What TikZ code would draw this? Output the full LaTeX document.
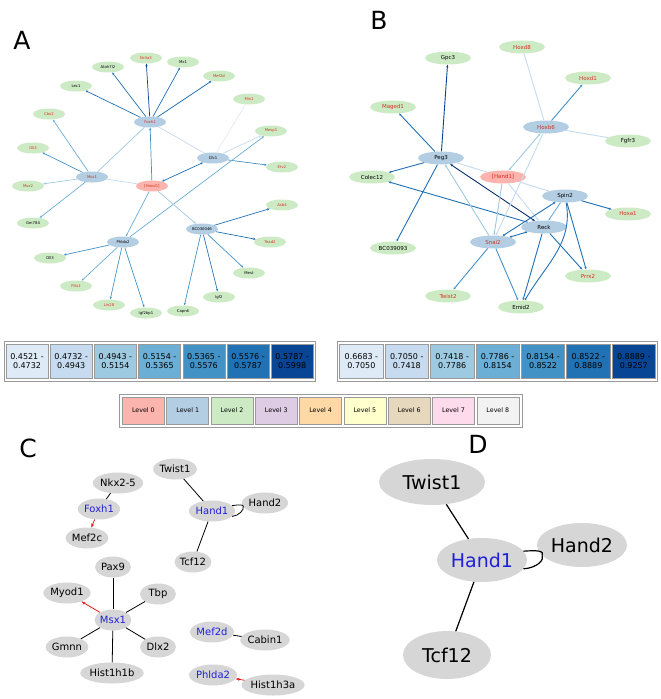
\documentclass[tikz,border=0pt]{standalone}
\usepackage{fontspec}
\setmainfont{DejaVu Sans}
\usetikzlibrary{shapes.geometric,arrows.meta}
\definecolor{lv0}{HTML}{FBB4AE}
\definecolor{lv1}{HTML}{B3CDE3}
\definecolor{lv2}{HTML}{CCEBC5}
\definecolor{lv3}{HTML}{DECBE4}
\definecolor{lv4}{HTML}{FED9A6}
\definecolor{lv5}{HTML}{FFFFCC}
\definecolor{lv6}{HTML}{E5D8BD}
\definecolor{lv7}{HTML}{FDDAEC}
\definecolor{lv8}{HTML}{F2F2F2}
\definecolor{b1}{HTML}{DEEBF7}
\definecolor{b2}{HTML}{C6DBEF}
\definecolor{b3}{HTML}{9ECAE1}
\definecolor{b4}{HTML}{6BAED6}
\definecolor{b5}{HTML}{4292C6}
\definecolor{b6}{HTML}{2171B5}
\definecolor{b7}{HTML}{084594}
\definecolor{navy}{HTML}{08306B}
\definecolor{nred}{HTML}{D7301F}
\definecolor{nblue}{HTML}{2020D8}
\definecolor{cgray}{HTML}{D6D6D6}
\definecolor{arred}{HTML}{E31A1C}
\definecolor{frame}{HTML}{9A9A9A}
\tikzset{
  lz/.style={fill=lv0,text=nred},
  lo/.style={fill=lv1},
  lt/.style={fill=lv2},
  rt/.style={text=nred},
  an/.style={ellipse,inner sep=0pt,minimum width=32pt,minimum height=11pt,font=\fontsize{3.8}{3.8}\selectfont},
  bn/.style={ellipse,inner sep=0pt,minimum width=46pt,minimum height=13pt,font=\fontsize{5.5}{5.5}\selectfont},
  cn/.style={ellipse,fill=cgray,inner sep=0pt,minimum width=36pt,minimum height=21pt,font=\fontsize{10}{10}\selectfont},
  dn/.style={ellipse,fill=cgray,inner sep=0pt,minimum width=90pt,minimum height=44pt,font=\fontsize{19}{19}\selectfont},
  bt/.style={text=nblue},
  ea/.style={line width=0.7pt,draw=#1},
  eb/.style={line width=0.9pt,draw=#1},
  ar/.style={-{Stealth[length=2.6pt,width=2.2pt]}},
  br/.style={{Stealth[length=2.6pt,width=2.2pt]}-{Stealth[length=2.6pt,width=2.2pt]}},
  cline/.style={line width=0.8pt,black},
  dline/.style={line width=1.2pt,black},
  redar/.style={line width=0.8pt,draw=arred,-{Stealth[length=4pt,width=3pt]}},
  cell/.style={rectangle,draw=frame,line width=0.6pt,inner sep=0pt,minimum height=34pt,align=center,font=\fontsize{8}{9.6}\selectfont},
  lcell/.style={rectangle,draw=frame,line width=0.6pt,inner sep=0pt,minimum width=42pt,minimum height=27pt,font=\fontsize{6.3}{6.3}\selectfont},
  plabel/.style={font=\fontsize{25}{25}\selectfont}
}
\begin{document}
\begin{tikzpicture}[x={(1pt,0)},y={(0,-1pt)}]
\useasboundingbox[fill=white] (0,0) rectangle (661,699);

% ---------------- Panel A ----------------
\node[plabel] (labA) at (22,40) {A};
\node[an,lo,rt] (aFox) at (150,122) {Foxh1};
\node[an,lt] (aLec) at (76,86) {Lec1};
\node[an,lt] (aAto) at (108,67) {Atoh7l2};
\node[an,lt,rt] (aNr4) at (146,58) {Nr4a3};
\node[an,lt] (aMx1) at (183,62) {Mx1};
\node[an,lt,rt] (aMef) at (219,76) {Mef2d};
\node[an,lt,rt] (aMix) at (249,99) {Mix1};
\node[an,lt,rt] (aMes) at (271,131) {Mesp1};
\node[an,lo] (aCfc) at (213,158) {Cfc1};
\node[an,lt,rt] (aEtv) at (282,167) {Etv2};
\node[an,lt,rt] (aCbx) at (49,114) {Cbx2};
\node[an,lt,rt] (aGli) at (33,148) {Gli3};
\node[an,lo,rt] (aMsx1) at (92,177) {Msx1};
\node[an,lt,rt] (aMsx2) at (28,186) {Msx2};
\node[an,lz] (aHand) at (152,186) {[Hand1]};
\node[an,lt] (aGrr) at (33,223) {Gm784};
\node[an,lt,rt] (aAsb) at (282,205) {Asb4};
\node[an,lo] (aBC) at (202,229) {BC030046};
\node[an,lt,rt] (aTea) at (270,242) {Tead2};
\node[an,lo] (aPhl) at (123,242) {Phlda2};
\node[an,lt] (aDll) at (50,258) {Dll3};
\node[an,lt] (aMest) at (249,273) {Mest};
\node[an,lt,rt] (aPit) at (76,286) {Pitx2};
\node[an,lt] (aIgf) at (219,297) {Igf2};
\node[an,lt,rt] (aLin) at (109,305) {Lin28};
\node[an,lt] (aIgfb) at (146,313) {Igf2bp1};
\node[an,lt] (aCap) at (183,311) {Capn6};

\draw[ea=b6,ar] (aFox) -- (aLec);
\draw[ea=b6,ar] (aFox) -- (aAto);
\draw[ea=b7,ar] (aFox) -- (aNr4);
\draw[ea=b6,ar] (aFox) -- (aMx1);
\draw[ea=b6,ar] (aFox) -- (aMef);
\draw[ea=b2] (aFox) -- (aCfc);
\draw[ea=b3] (aFox) -- (aMsx1);
\draw[ea=b5,ar] (aHand) -- (aFox);
\draw[ea=b1] (aCfc) -- (aMix);
\draw[ea=b2,ar] (aCfc) -- (aMes);
\draw[ea=b5,ar] (aCfc) -- (aEtv);
\draw[ea=b6,br] (aHand) -- (aCfc);
\draw[ea=b4,ar] (aMsx1) -- (aCbx);
\draw[ea=b5,ar] (aMsx1) -- (aGli);
\draw[ea=b3,ar] (aMsx1) -- (aMsx2);
\draw[ea=b4,ar] (aMsx1) -- (aGrr);
\draw[ea=b2] (aMsx1) -- (aHand);
\draw[ea=b4,ar] (aHand) -- (aPhl);
\draw[ea=b4,ar] (aPhl) -- (aMes);
\draw[ea=b3,ar] (aHand) -- (aBC);
\draw[ea=b6,ar] (aBC) -- (aAsb);
\draw[ea=b6,ar] (aBC) -- (aTea);
\draw[ea=b5,ar] (aBC) -- (aMest);
\draw[ea=b6,ar] (aBC) -- (aIgf);
\draw[ea=b5,ar] (aBC) -- (aCap);
\draw[ea=b5,ar] (aPhl) -- (aDll);
\draw[ea=b4,ar] (aPhl) -- (aPit);
\draw[ea=b5,ar] (aPhl) -- (aLin);
\draw[ea=b5,ar] (aPhl) -- (aIgfb);

% ---------------- Panel B ----------------
\node[plabel] (labB) at (379,20) {B};
\node[bn,lt] (bGpc) at (448,58) {Gpc3};
\node[bn,lt,rt] (bHd8) at (522,47) {Hoxd8};
\node[bn,lt,rt] (bHd1) at (588,78) {Hoxd1};
\node[bn,lt,rt] (bMag) at (393,107) {Maged1};
\node[bn,lo,rt] (bHb6) at (546,127) {Hoxb6};
\node[bn,lt] (bFgf) at (628,141) {Fgfr3};
\node[bn,lo] (bPeg) at (441,158) {Peg3};
\node[bn,lt] (bCol) at (372,177) {Colec12};
\node[bn,lz] (bHand) at (503,177) {[Hand1]};
\node[bn,lo] (bSpi) at (565,196) {Spin2};
\node[bn,lt,rt] (bHa1) at (628,214) {Hoxa1};
\node[bn,lo] (bRec) at (544,227) {Reck};
\node[bn,lo,rt] (bSna) at (493,242) {Snai2};
\node[bn,lt] (bBC) at (393,248) {BC039093};
\node[bn,lt,rt] (bPrx) at (588,276) {Prrx2};
\node[bn,lt,rt] (bTw2) at (448,296) {Twist2};
\node[bn,lt] (bEmi) at (521,307) {Emid2};

\draw[eb=b7,ar] (bPeg) -- (bGpc);
\draw[eb=b6,ar] (bPeg) -- (bMag);
\draw[eb=b6,ar] (bPeg) -- (bCol);
\draw[eb=b6,ar] (bPeg) -- (bBC);
\draw[eb=b6,ar] (bRec) -- (bCol);
\draw[eb=navy,br] (bPeg) -- (bRec);
\draw[eb=b2] (bHb6) -- (bHd8);
\draw[eb=b5,ar] (bHb6) -- (bHd1);
\draw[eb=b2] (bHb6) -- (bFgf);
\draw[eb=b3,br] (bHand) -- (bHb6);
\draw[eb=b2,ar] (bHb6) -- (bSna);
\draw[eb=b2] (bPeg) -- (bHand);
\draw[eb=b3,ar] (bSna) -- (bPeg);
\draw[eb=b3,ar] (bHand) -- (bSna);
\draw[eb=b2,ar] (bHand) -- (bRec);
\draw[eb=b2,ar] (bHand) -- (bSpi);
\draw[eb=b6,ar] (bSpi) -- (bHa1);
\draw[eb=b6,br] (bSpi) -- (bSna);
\draw[eb=b6,br] (bRec) -- (bSna);
\draw[eb=b4,ar] (bSpi) -- (bRec);
\draw[eb=b6,ar] (bSpi) -- (bPrx);
\draw[eb=b6,ar] (bSpi) to[out=-80,in=60] (bEmi);
\draw[eb=b6,ar] (bRec) -- (bPrx);
\draw[eb=b6,ar] (bRec) -- (bEmi);
\draw[eb=b5,ar] (bSna) -- (bTw2);
\draw[eb=b5,ar] (bSna) -- (bEmi);

% ---------------- Legends ----------------
\draw[frame,line width=0.8pt,fill=white] (4,341) rectangle (315,381);
\foreach \i/\c/\p/\q in {0/b1/0.4521/0.4732,1/b2/0.4732/0.4943,2/b3/0.4943/0.5154,3/b4/0.5154/0.5365,4/b5/0.5365/0.5576,5/b6/0.5576/0.5787,6/b7/0.5787/0.5998}
  \node[cell,fill=\c,minimum width=42pt] (la\i) at ({27+44.2*\i},361) {\p{} -\\\q};
\draw[frame,line width=0.8pt,fill=white] (337,341) rectangle (657,381);
\foreach \i/\c/\p/\q in {0/b1/0.6683/0.7050,1/b2/0.7050/0.7418,2/b3/0.7418/0.7786,3/b4/0.7786/0.8154,4/b5/0.8154/0.8522,5/b6/0.8522/0.8889,6/b7/0.8889/0.9257}
  \node[cell,fill=\c,minimum width=43.4pt] (lb\i) at ({361.4+45.4*\i},361) {\p{} -\\\q};
\draw[frame,line width=0.8pt,fill=white] (119,394) rectangle (522,427);
\foreach \i in {0,...,8}
  \node[lcell,fill=lv\i] (lc\i) at ({143.4+44.3*\i},410.5) {Level \i};

% ---------------- Panel C ----------------
\node[plabel] (labC) at (28,448) {C};
\node[cn] (cTw1) at (175,469) {Twist1};
\node[cn] (cNkx) at (118,483) {Nkx2-5};
\node[cn] (cHa2) at (265,503) {Hand2};
\node[cn,bt] (cFox) at (99,509) {Foxh1};
\node[cn,bt] (cHa1) at (212,511) {Hand1};
\node[cn] (cMef2c) at (87,538) {Mef2c};
\node[cn] (cTcf) at (193,562) {Tcf12};
\node[cn] (cPax) at (113,567) {Pax9};
\node[cn] (cMyo) at (67,593) {Myod1};
\node[cn] (cTbp) at (158,594) {Tbp};
\node[cn,bt] (cMsx) at (113,620) {Msx1};
\node[cn,bt] (cMef2d) at (212,632) {Mef2d};
\node[cn] (cCab) at (265,640) {Cabin1};
\node[cn] (cGmn) at (67,647) {Gmnn};
\node[cn] (cDlx) at (158,647) {Dlx2};
\node[cn] (cHis1) at (112,673) {Hist1h1b};
\node[cn,bt] (cPhl) at (213,675) {Phlda2};
\node[cn] (cHis3) at (273,685) {Hist1h3a};

\draw[cline] (cNkx) -- (cFox);
\draw[redar] (cFox) -- (cMef2c);
\draw[cline] (cTw1) -- (cHa1);
\draw[cline] (cHa1) -- (cTcf);
\draw[cline] (cHa1.15) .. controls +(7,-1) and +(1,-2.5) .. (cHa2.190);
\draw[cline] (cHa1.-15) .. controls +(7,-0.5) and +(1,2.5) .. (cHa2.190);
\draw[cline] (cMsx) -- (cPax);
\draw[redar] (cMsx) -- (cMyo);
\draw[cline] (cMsx) -- (cTbp);
\draw[cline] (cMsx) -- (cGmn);
\draw[cline] (cMsx) -- (cDlx);
\draw[cline] (cMsx) -- (cHis1);
\draw[cline] (cMef2d) -- (cCab);
\draw[redar] (cHis3) -- (cPhl);

% ---------------- Panel D ----------------
\node[plabel] (labD) at (478,444) {D};
\node[dn,minimum width=106pt,minimum height=46pt] (dTw1) at (432,482) {Twist1};
\node[dn,bt] (dHa1) at (482,560) {Hand1};
\node[dn] (dHa2) at (582,545) {Hand2};
\node[dn,minimum width=88pt,minimum height=48pt] (dTcf) at (447,655) {Tcf12};
\draw[dline] (dTw1) -- (dHa1);
\draw[dline] (dHa1) -- (dTcf);
\draw[dline] (dHa1.12) .. controls +(14,-1) and +(2,-5) .. (dHa2.195);
\draw[dline] (dHa1.-12) .. controls +(14,-1) and +(2,4) .. (dHa2.195);
\end{tikzpicture}
\end{document}
